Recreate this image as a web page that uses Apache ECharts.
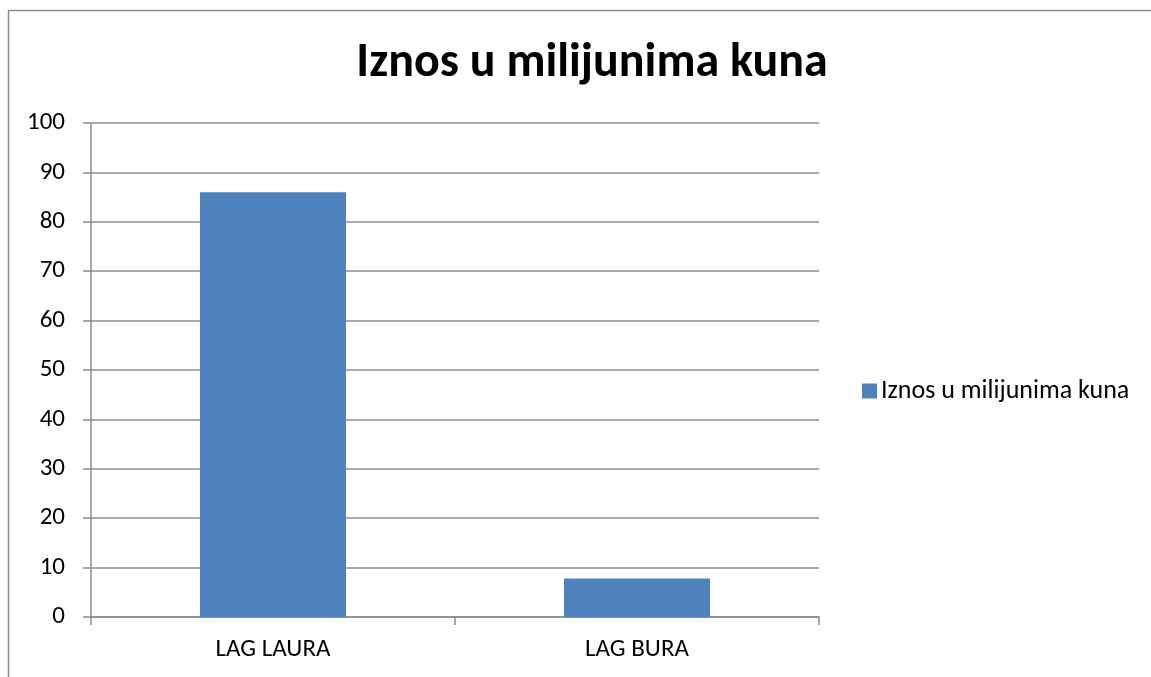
<!DOCTYPE html>
<html>
<head>
<meta charset="utf-8">
<script src="https://cdn.jsdelivr.net/npm/echarts@6/dist/echarts.min.js"></script>
<style>
  html, body { margin: 0; padding: 0; background: #fff; }
  #chart { width: 1151px; height: 677px; }
</style>
</head>
<body>
<div id="chart"></div>
<script>
var titleText = 'Iznos u milijunima kuna';
var categories = ['LAG LAURA', 'LAG BURA'];
var seriesName = 'Iznos u milijunima kuna';
var values = [86, 7.8];
var yTicks = { min: 0, max: 100, interval: 10 };

var font = 'Carlito, "Open Sans", "Liberation Sans", sans-serif';
var gray = '#8c8c8c';

var chart = echarts.init(document.getElementById('chart'));
chart.setOption({
  animation: false,
  textStyle: { fontFamily: font },
  graphic: [{
    type: 'rect',
    shape: { x: 8.5, y: 10.5, width: 1300, height: 1000 },
    style: { fill: 'none', stroke: gray, lineWidth: 1.5 },
    silent: true
  }],
  title: {
    text: titleText,
    left: 587, top: 35, textAlign: 'center',
    textStyle: { fontFamily: font, fontSize: 48, fontWeight: 'bold', color: '#000' }
  },
  legend: {
    left: 857, top: 373,
    itemWidth: 15, itemHeight: 15, itemGap: 6,
    icon: 'rect',
    textStyle: { fontFamily: font, fontSize: 26, color: '#000', padding: [0, 0, 0, -1] },
    data: [seriesName]
  },
  grid: { left: 91, right: 332, top: 123, bottom: 60, containLabel: false },
  xAxis: {
    type: 'category',
    data: categories,
    axisLine: { lineStyle: { color: gray, width: 1.5 } },
    axisTick: { show: true, length: 8, alignWithLabel: false, lineStyle: { color: gray, width: 1.5 } },
    axisLabel: { color: '#000', fontSize: 25, margin: 20 }
  },
  yAxis: {
    type: 'value',
    min: yTicks.min, max: yTicks.max, interval: yTicks.interval,
    axisLine: { show: true, lineStyle: { color: gray, width: 1.5 } },
    axisTick: { show: true, length: 8, lineStyle: { color: gray, width: 1.5 } },
    axisLabel: { color: '#000', fontSize: 25, margin: 26 },
    splitLine: { lineStyle: { color: gray, width: 1.5 } }
  },
  series: [{
    name: seriesName,
    type: 'bar',
    data: values,
    barWidth: 146,
    itemStyle: { color: '#4f81bd' }
  }]
});
</script>
</body>
</html>
